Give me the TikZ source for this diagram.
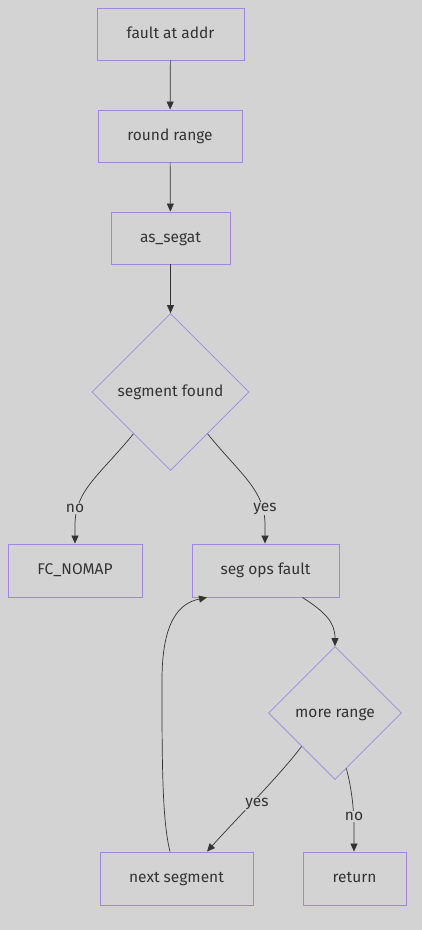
\documentclass[tikz,border=0pt]{standalone}
\usepackage{fontspec}
\setmainfont{Fira Sans}
\usetikzlibrary{shapes.geometric,arrows.meta,calc}
\definecolor{bg}{HTML}{D3D3D3}
\definecolor{bord}{HTML}{9D87E0}
\definecolor{ink}{HTML}{333333}
\tikzset{
  box/.style={draw=bord,fill=bg,line width=0.9pt,inner sep=0pt,text=ink,font=\fontsize{15.5}{18}\selectfont,text height=8pt,text depth=0pt},
  dia/.style={draw=bord,fill=bg,line width=0.7pt,shape=diamond,aspect=1,inner sep=0pt,text=ink,font=\fontsize{15.5}{18}\selectfont,text height=8pt,text depth=0pt},
  edge/.style={draw=ink,line width=0.7pt,-{Triangle[length=8pt,width=7pt]}},
  lbl/.style={fill=bg,inner sep=1pt,text=ink,font=\fontsize{15.5}{18}\selectfont},
}
\begin{document}
\begin{tikzpicture}[x=1pt,y=-1pt]
\fill[bg] (0,0) rectangle (422,930);
\useasboundingbox (0,0) rectangle (422,930);
\node[box,minimum width=147pt,minimum height=52pt] (fa) at (170.5,34) {fault at addr};
\node[box,minimum width=144pt,minimum height=52pt] (rr) at (170,136) {round range};
\node[box,minimum width=119pt,minimum height=52pt] (as) at (170.5,238) {as\_segat};
\node[dia,minimum width=157pt,minimum height=157pt] (sf) at (170.5,392) {segment found};
\node[box,minimum width=134pt,minimum height=53pt] (fc) at (75,570.5) {FC\_NOMAP};
\node[box,minimum width=147pt,minimum height=53pt] (so) at (265.5,570.5) {seg ops fault};
\node[dia,minimum width=133pt,minimum height=133pt] (mr) at (335,713) {more range};
\node[box,minimum width=153pt,minimum height=53pt] (ns) at (176.5,878.5) {next segment};
\node[box,minimum width=103pt,minimum height=53pt] (rt) at (354.5,878.5) {return};

\draw[edge] (fa) -- (rr);
\draw[edge] (rr) -- (as);
\draw[edge] (as) -- (sf);
\draw[edge] ($(sf.south)!0.47!(sf.west)$) .. controls (100,475) and (75,490) .. (75,525) -- (fc.north);
\draw[edge] ($(sf.south)!0.47!(sf.east)$) .. controls (241,475) and (265,490) .. (265,525) -- ([xshift=-0.5pt]so.north);
\draw[edge] ([xshift=37pt]so.south) .. controls (325,612) and (335,622) .. (mr.north);
\draw[edge] ($(mr.south)!0.5!(mr.west)$) .. controls (280,775) and (240,815) .. ([xshift=30.5pt]ns.north);
\draw[edge] ($(mr.south)!0.17!(mr.east)$) .. controls (352,790) and (354,810) .. (354,830) -- ([xshift=-0.5pt]rt.north);
\draw[edge] ([xshift=-6.5pt]ns.north) .. controls (162,820) and (162,760) .. (162,680) .. controls (162,620) and (180,603) .. ([xshift=-58.5pt]so.south);

\node[lbl] (l1) at (75,508.5) {no};
\node[lbl] (l2) at (265,508.5) {yes};
\node[lbl] (l3) at (257,803.5) {yes};
\node[lbl] (l4) at (354,816.5) {no};
\end{tikzpicture}
\end{document}
